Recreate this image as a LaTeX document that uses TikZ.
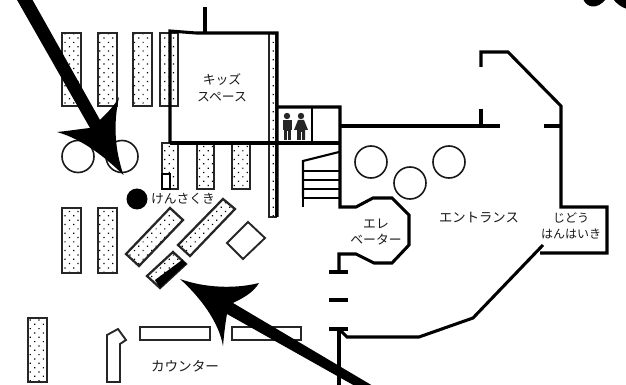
\documentclass[tikz,border=0pt]{standalone}
\usepackage{fontspec}
\usetikzlibrary{patterns.meta}
\newfontfamily\jp{Noto Sans CJK JP}
\tikzset{
  x=0.75pt,y=-0.75pt,
  wall/.style={draw=black,line width=2.3pt,line join=miter},
  thin wall/.style={draw=black,line width=1.6pt},
  shelf/.style={draw=black!85,line width=1.7pt,pattern={Dots[distance=4.6pt,radius=0.65pt,angle=45]},pattern color=black},
  blank/.style={draw=black!85,line width=1.4pt,fill=white},
  circ/.style={draw=black!90,line width=1.2pt},
  lab/.style={font=\jp\fontsize{9.6pt}{11.5pt}\selectfont,align=center,inner sep=0pt,text=black!90},
  person/.style={fill=black!85},
  bigarrow/.style={fill=black}
}
\begin{document}
\begin{tikzpicture}
\useasboundingbox (0,0) rectangle (626,385);
\fill[white] (0,0) rectangle (626,385);
% shelves
\path[shelf] (62,33) rectangle (81,106);
\path[shelf] (98,33) rectangle (117,106);
\path[shelf] (133,33) rectangle (152,106);
\path[shelf] (160,33) rectangle (178,106);
\path[shelf] (162,143) rectangle (178,189);
\path[shelf] (197,143) rectangle (214,189);
\path[shelf] (232,143) rectangle (250,189);
\path[shelf] (269,33) rectangle (276,217);
\path[shelf] (62,208) rectangle (81,273);
\path[shelf] (98,208) rectangle (117,273);
\path[shelf] (28,318) rectangle (47,382);
\path[shelf] (126,254) -- (170,208) -- (183,220) -- (139,266) -- cycle;
\path[shelf] (178,245) -- (223,199) -- (235,209) -- (190,256) -- cycle;
\path[shelf] (147,276) -- (173,252) -- (186,264) -- (160,288) -- cycle;
\fill[black] (155,280) -- (182,260) -- (186,264) -- (160,288) -- cycle;
\path[blank] (227,243) -- (248,222) -- (265,238) -- (243,259) -- cycle;
\draw[thin wall,fill=white] (162,174) rectangle (170,189);
% kids space
\draw[wall] (170,143) -- (170,31) -- (196,33) -- (277,33) -- (277,217);
\draw[wall] (170,143) -- (340,143);
\draw[wall] (205,7) -- (205,33);
\node[lab] (kids) at (222,88) {キッズ\\[1pt]スペース};
% restroom and outer walls
\draw[wall] (277,107) -- (340,107) -- (340,207) -- (356,207) -- (373,198) -- (392,198) -- (409,215) -- (409,245) -- (392,263) -- (374,263) -- (356,254) -- (339,254) -- (339,272);
\draw[thin wall] (312,107) -- (312,143);
\draw[wall] (340,126) -- (500,126);
\draw[wall] (481,126) -- (481,109);
\draw[wall] (481,67) -- (481,52) -- (508,52) -- (561,106) -- (561,207) -- (607,207) -- (607,253) -- (540,253);
\draw[wall] (544,126) -- (561,126);
\draw[wall] (329,272) -- (348,272);
\draw[wall] (329,300) -- (348,300);
\draw[wall] (329,329) -- (348,329);
\draw[wall] (339,329) -- (339,385);
\draw[wall] (339,329) -- (347,337) -- (419,337) -- (473,318) -- (543,245);
% stairs
\draw[thin wall] (303,198) -- (303,161) -- (339,152);
\draw[thin wall] (303,171) -- (339,171);
\draw[thin wall] (303,180) -- (339,180);
\draw[thin wall] (303,189) -- (339,189);
\draw[thin wall] (303,198) -- (339,198);
\draw[thin wall] (303,198) -- (303,207);
% people
\fill[person] (287,116) circle (3.2);
\fill[person] (283,120) rectangle (292,130);
\fill[person] (284,130) rectangle (291,140);
\fill[white] (287,131) rectangle (288,140);
\fill[person] (301,116) circle (3.2);
\fill[person] (298,120) -- (304,120) -- (308,130) -- (305,130) -- (305,140) -- (297,140) -- (297,130) -- (294,130) -- cycle;
\fill[white] (300.6,132) rectangle (301.6,140);
% circles
\draw[circ] (78,156.5) circle (16);
\draw[circ] (122,156.5) circle (16);
\draw[circ] (371,162) circle (16);
\draw[circ] (410,183) circle (16);
\draw[circ] (449,162) circle (16);
\fill[black] (137,199) circle (10.5);
% counter
\path[blank] (107,382) -- (107,335) -- (118,329) -- (126,340) -- (120,344) -- (120,382) -- cycle;
\path[blank] (140,327) rectangle (210,340);
\path[blank] (232,327) rectangle (301,340);
% labels
\node[lab] (finder) at (183,199) {けんさくき};
\node[lab,font=\jp\fontsize{10.2pt}{12pt}\selectfont] (counter) at (185,366) {カウンター};
\node[lab,font=\jp\fontsize{10pt}{12pt}\selectfont] (entrance) at (479,218) {エントランス};
\node[lab] (elev) at (376,232) {エレ\\ベーター};
\node[lab,font=\jp\fontsize{9pt}{12pt}\selectfont] (vend) at (571,226) {じどう\\はんはいき};
% big arrows
\fill[bigarrow] (16.5,-1) -- (32,-1) -- (100,120) .. controls (108,112) and (115,105) .. (119,97)
  .. controls (113,125) and (115,150) .. (123.5,175)
  .. controls (108,160) and (85,140) .. (57,132)
  .. controls (68,131) and (80,129) .. (90,128) -- cycle;
\fill[bigarrow] (373,386) -- (233,303) .. controls (243,298) and (253,293) .. (259,283)
  .. controls (235,289) and (205,288) .. (180,279)
  .. controls (200,297) and (219,322) .. (223,346)
  .. controls (224,335) and (225,325) .. (227,314) -- (355,386) -- cycle;
\fill[bigarrow] (583,-1) .. controls (587,8) and (597,10) .. (606,-1) -- cycle;
\fill[bigarrow] (613,-1) .. controls (617,4) and (621,7) .. (627,9) -- (627,-1) -- cycle;
\end{tikzpicture}
\end{document}
